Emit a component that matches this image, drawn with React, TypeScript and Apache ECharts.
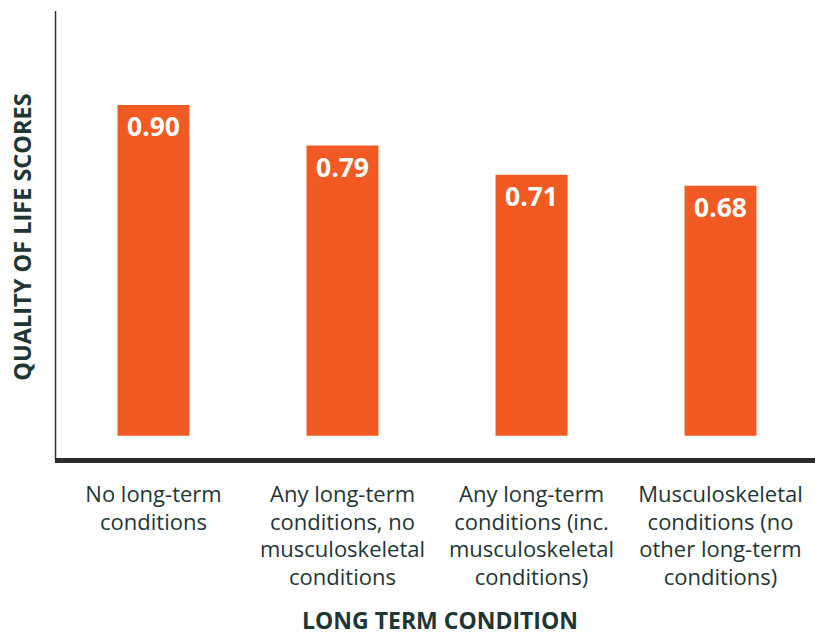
import React, { useEffect, useRef } from "react";
import * as echarts from "echarts";

const categories = [
  "No long-term\nconditions",
  "Any long-term\nconditions, no\nmusculoskeletal\nconditions",
  "Any long-term\nconditions (inc.\nmusculoskeletal\nconditions)",
  "Musculoskeletal\nconditions (no\nother long-term\nconditions)",
];
const scores = [0.9, 0.79, 0.71, 0.68];
const yAxisTitle = "QUALITY OF LIFE SCORES";
const xAxisTitle = "LONG TERM CONDITION";

const TEXT = "#1e3634";
const ORANGE = "#f15a22";
const FONT = "'Open Sans', 'Noto Sans', sans-serif";

export default function App() {
  const ref = useRef<HTMLDivElement>(null);
  useEffect(() => {
    document.body.style.margin = "0";
    const chart = echarts.init(ref.current!, null, { renderer: "svg" });
    chart.setOption({
      animation: false,
      backgroundColor: "#ffffff",
      textStyle: { fontFamily: FONT },
      grid: { left: 59, width: 760, top: 68.3, height: 367.4 },
      xAxis: {
        type: "category",
        data: categories,
        axisLine: { show: false },
        axisTick: { show: false },
        axisLabel: {
          interval: 0,
          margin: 44,
          color: TEXT,
          fontFamily: FONT,
          fontSize: 22,
          lineHeight: 27.5,
          align: "center",
          verticalAlign: "top",
        },
      },
      yAxis: {
        type: "value",
        min: 0,
        max: 1,
        axisLine: { show: false },
        axisTick: { show: false },
        axisLabel: { show: false },
        splitLine: { show: false },
      },
      series: [
        {
          type: "bar",
          data: scores,
          barWidth: 72,
          itemStyle: { color: ORANGE },
          label: {
            show: true,
            position: "insideTop",
            distance: 8,
            color: "#ffffff",
            fontFamily: FONT,
            fontWeight: "bold",
            fontSize: 26.5,
            lineHeight: 26.5,
            formatter: (p: any) => p.value.toFixed(2),
          },
        },
      ],
      graphic: [
        {
          type: "line",
          shape: { x1: 55.5, y1: 11, x2: 55.5, y2: 460 },
          style: { stroke: "#333333", lineWidth: 1.5 },
        },
        {
          type: "rect",
          shape: { x: 55, y: 458, width: 760, height: 5 },
          style: { fill: "#2b2b2b" },
        },
        {
          type: "text",
          x: 22,
          y: 237,
          rotation: Math.PI / 2,
          style: {
            text: yAxisTitle,
            fill: TEXT,
            font: `bold 23.5px ${FONT}`,
            align: "center",
            verticalAlign: "middle",
          },
        },
        {
          type: "text",
          x: 440,
          y: 620,
          style: {
            text: xAxisTitle,
            fill: TEXT,
            font: `bold 23px ${FONT}`,
            align: "center",
            verticalAlign: "middle",
          },
        },
      ],
    });
    return () => chart.dispose();
  }, []);
  return <div ref={ref} style={{ width: 815, height: 636 }} />;
}
